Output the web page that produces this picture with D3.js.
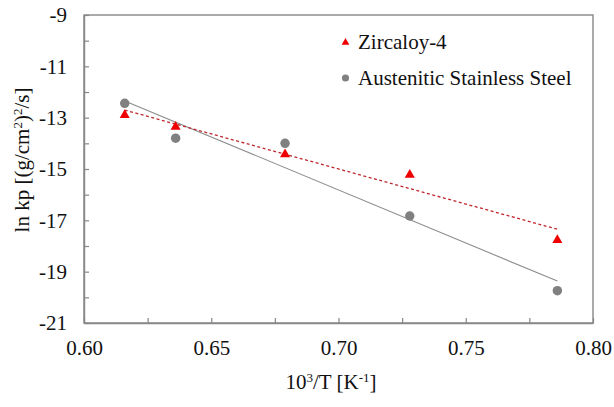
<!DOCTYPE html>
<html>
<head>
<meta charset="utf-8">
<script src="https://cdn.jsdelivr.net/npm/d3@7"></script>
<style>
  html, body { margin: 0; padding: 0; background: #fff; }
  svg { display: block; }
</style>
</head>
<body>
<svg id="chart" width="614" height="407"></svg>
<script>
// Reciprocal temperature, 10^3/T [1/K]
const invT = [0.616, 0.636, 0.679, 0.728, 0.786];
// ln kp for each alloy at those temperatures
const zircaloy = [-12.86, -13.32, -14.39, -15.19, -17.73];
const stainless = [-12.44, -13.80, -14.00, -16.83, -19.74];
const seriesNames = ["Zircaloy-4", "Austenitic Stainless Steel"];
const xTicks = [0.60, 0.65, 0.70, 0.75, 0.80];
const yTicks = [-9, -11, -13, -15, -17, -19, -21];

const FONT = "'Liberation Serif', 'Times New Roman', Times, serif";
const fontSize = 21;
const supSize = 13;
const textColor = "#111";
const axisColor = "#878787";

const svg = d3.select("#chart");
const m = { left: 84, right: 593, top: 15, bottom: 323 };

const x = d3.scaleLinear().domain([0.60, 0.80]).range([m.left, m.right]);
const y = d3.scaleLinear().domain([-21, -9]).range([m.bottom, m.top]);

// frame
svg.append("rect")
  .attr("x", m.left).attr("y", m.top)
  .attr("width", m.right - m.left).attr("height", m.bottom - m.top)
  .attr("fill", "none").attr("stroke", axisColor).attr("stroke-width", 1.4);

// x axis: inward ticks every 0.025, labels every 0.05
const xAxis = d3.axisBottom(x)
  .tickValues(d3.range(0, 9).map(i => 0.60 + i * 0.025))
  .tickSizeInner(-5).tickSizeOuter(0)
  .tickFormat(d => xTicks.some(t => Math.abs(t - d) < 1e-9) ? d3.format(".2f")(d) : "");
const gx = svg.append("g").attr("transform", `translate(0,${m.bottom})`).call(xAxis);
gx.select(".domain").attr("stroke", axisColor).attr("stroke-width", 1.4);
gx.selectAll(".tick line").attr("stroke", axisColor).attr("stroke-width", 1.2);
gx.selectAll(".tick text")
  .attr("y", 17).attr("dy", "0.71em")
  .style("font-family", FONT).style("font-size", fontSize + "px").attr("fill", textColor);

// y axis: inward ticks every 1, labels on odd values
const yAxis = d3.axisLeft(y)
  .tickValues(d3.range(-21, -8, 1))
  .tickSizeInner(-5).tickSizeOuter(0)
  .tickFormat(d => yTicks.includes(d) ? String(d) : "");
const gy = svg.append("g").attr("transform", `translate(${m.left},0)`).call(yAxis);
gy.select(".domain").attr("stroke", axisColor).attr("stroke-width", 1.4);
gy.selectAll(".tick line").attr("stroke", axisColor).attr("stroke-width", 1.2);
gy.selectAll(".tick text")
  .attr("x", -17)
  .style("font-family", FONT).style("font-size", fontSize + "px").attr("fill", textColor);

// least-squares trend line over the data range
function fit(xs, ys) {
  const mx = d3.mean(xs), my = d3.mean(ys);
  const sxy = d3.sum(xs, (v, i) => (v - mx) * (ys[i] - my));
  const sxx = d3.sum(xs, v => (v - mx) * (v - mx));
  const b = sxy / sxx, a = my - b * mx;
  const x0 = d3.min(xs), x1 = d3.max(xs);
  return [[x0, a + b * x0], [x1, a + b * x1]];
}
const line = d3.line().x(d => x(d[0])).y(d => y(d[1]));

svg.append("path").datum(fit(invT, stainless))
  .attr("d", line).attr("fill", "none")
  .attr("stroke", "#8c8c8c").attr("stroke-width", 1.1);
svg.append("path").datum(fit(invT, zircaloy))
  .attr("d", line).attr("fill", "none")
  .attr("stroke", "#c0272d").attr("stroke-width", 1.3)
  .attr("stroke-dasharray", "3,2.5");

const tri = d3.symbol().type(d3.symbolTriangle).size(44);
const dot = d3.symbol().type(d3.symbolCircle).size(70);

svg.append("g").selectAll("path")
  .data(invT.map((v, i) => [v, stainless[i]]))
  .join("path")
  .attr("transform", d => `translate(${x(d[0])},${y(d[1])})`)
  .attr("d", dot).attr("fill", "#808080");

svg.append("g").selectAll("path")
  .data(invT.map((v, i) => [v, zircaloy[i]]))
  .join("path")
  .attr("transform", d => `translate(${x(d[0])},${y(d[1]) + 1})`)
  .attr("d", tri).attr("fill", "#ee0000");

// legend
const lg = svg.append("g");
lg.append("path").attr("transform", "translate(345.5,42.5)")
  .attr("d", d3.symbol().type(d3.symbolTriangle).size(26)).attr("fill", "#ee0000");
lg.append("text").attr("x", 358).attr("y", 49)
  .style("font-family", FONT).style("font-size", fontSize + "px")
  .attr("fill", textColor).text(seriesNames[0]);
lg.append("path").attr("transform", "translate(345.5,78)")
  .attr("d", d3.symbol().type(d3.symbolCircle).size(40)).attr("fill", "#808080");
lg.append("text").attr("x", 358).attr("y", 85)
  .style("font-family", FONT).style("font-size", fontSize + "px")
  .attr("fill", textColor).text(seriesNames[1]);

// axis titles
const xt = svg.append("text").attr("x", 331).attr("y", 389)
  .attr("text-anchor", "middle")
  .style("font-family", FONT).style("font-size", fontSize + "px").attr("fill", textColor);
xt.append("tspan").text("10");
xt.append("tspan").style("font-size", supSize + "px").attr("dy", -7).text("3");
xt.append("tspan").attr("dy", 7).text("/T [K");
xt.append("tspan").style("font-size", supSize + "px").attr("dy", -7).text("-1");
xt.append("tspan").attr("dy", 7).text("]");

const yt = svg.append("text")
  .attr("transform", "translate(29,160) rotate(-90)")
  .attr("text-anchor", "middle")
  .style("font-family", FONT).style("font-size", fontSize + "px").attr("fill", textColor);
yt.append("tspan").text("ln kp [(g/cm");
yt.append("tspan").style("font-size", supSize + "px").attr("dy", -7).text("2");
yt.append("tspan").attr("dy", 7).text(")");
yt.append("tspan").style("font-size", supSize + "px").attr("dy", -7).text("2");
yt.append("tspan").attr("dy", 7).text("/s]");
</script>
</body>
</html>
